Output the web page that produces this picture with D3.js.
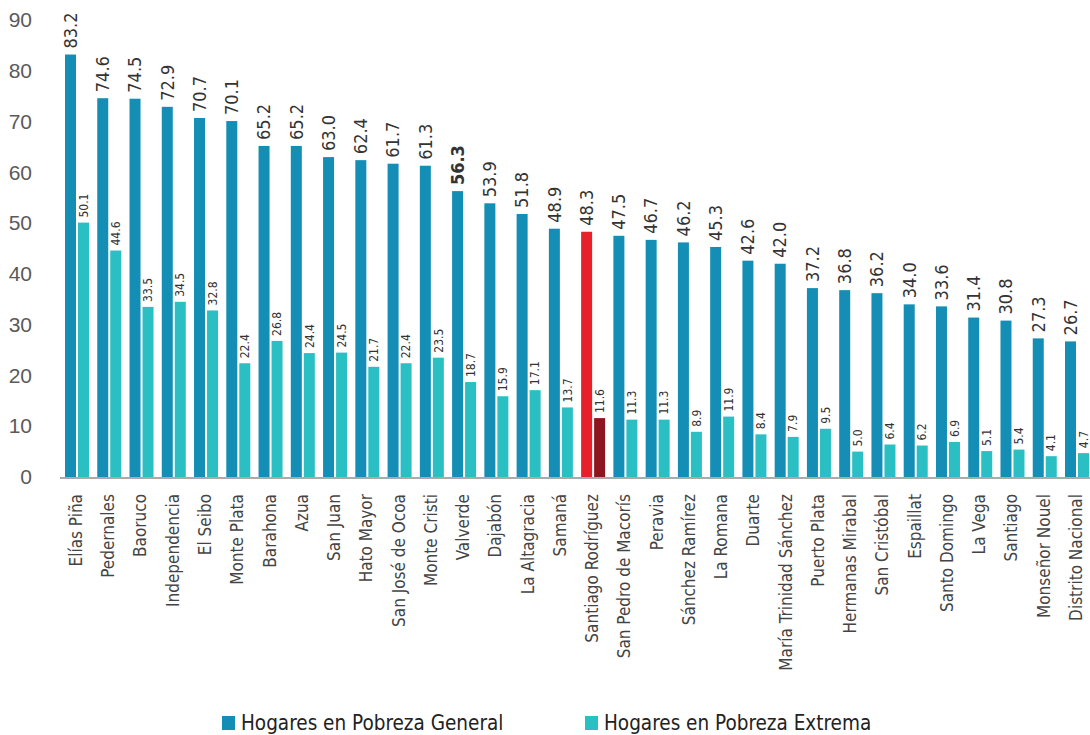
<!DOCTYPE html>
<html>
<head>
<meta charset="utf-8">
<script src="https://cdn.jsdelivr.net/npm/d3@7"></script>
<style>
  body { margin: 0; background: #fff; }
  svg { display: block; font-family: "Liberation Sans Narrow", "DejaVu Sans Condensed", "Roboto", sans-serif; }
</style>
</head>
<body>
<svg width="1090" height="735"></svg>
<script>
// provinces, sorted by general poverty
const categories = ["Elías Piña", "Pedernales", "Baoruco", "Independencia", "El Seibo", "Monte Plata",
  "Barahona", "Azua", "San Juan", "Hato Mayor", "San José de Ocoa", "Monte Cristi", "Valverde",
  "Dajabón", "La Altagracia", "Samaná", "Santiago Rodríguez", "San Pedro de Macorís", "Peravia",
  "Sánchez Ramírez", "La Romana", "Duarte", "María Trinidad Sánchez", "Puerto Plata",
  "Hermanas Mirabal", "San Cristóbal", "Espaillat", "Santo Domingo", "La Vega", "Santiago",
  "Monseñor Nouel", "Distrito Nacional"];

const general = [83.2, 74.6, 74.5, 72.9, 70.7, 70.1, 65.2, 65.2, 63.0, 62.4, 61.7, 61.3, 56.3, 53.9,
  51.8, 48.9, 48.3, 47.5, 46.7, 46.2, 45.3, 42.6, 42.0, 37.2, 36.8, 36.2, 34.0, 33.6, 31.4, 30.8, 27.3, 26.7];

const extrema = [50.1, 44.6, 33.5, 34.5, 32.8, 22.4, 26.8, 24.4, 24.5, 21.7, 22.4, 23.5, 18.7, 15.9,
  17.1, 13.7, 11.6, 11.3, 11.3, 8.9, 11.9, 8.4, 7.9, 9.5, 5.0, 6.4, 6.2, 6.9, 5.1, 5.4, 4.1, 4.7];

const yTicks = [0, 10, 20, 30, 40, 50, 60, 70, 80, 90];
const seriesNames = ["Hogares en Pobreza General", "Hogares en Pobreza Extrema"];
const highlight = "Santiago Rodríguez";
const boldLabel = "Valverde";

const colGeneral = "#148eb4", colExtrema = "#2abfc3";
const colHiGeneral = "#e8202a", colHiExtrema = "#8d1520";

const svg = d3.select("svg");

const x = d3.scaleBand()
  .domain(categories)
  .range([65, 1089])
  .paddingInner(0.256)
  .paddingOuter(0);

const xs = d3.scaleBand()
  .domain(["general", "extrema"])
  .range([0, x.bandwidth()])
  .paddingInner(0.154);

const y = d3.scaleLinear().domain([0, 90]).range([477, 20]);

const rows = categories.map((c, i) => ({ name: c, general: general[i], extrema: extrema[i] }));

// y axis labels only, no line
const yAxis = svg.append("g")
  .attr("transform", "translate(32,0)")
  .call(d3.axisLeft(y).tickValues(yTicks).tickSize(0).tickPadding(0));
yAxis.select(".domain").remove();
yAxis.selectAll("text")
  .attr("font-family", null)
  .attr("font-size", 21)
  .attr("fill", "#5a5a5a");

const grp = svg.append("g")
  .selectAll("g")
  .data(rows)
  .join("g")
  .attr("transform", d => `translate(${x(d.name)},0)`);

grp.append("rect")
  .attr("x", xs("general"))
  .attr("width", xs.bandwidth())
  .attr("y", d => y(d.general))
  .attr("height", d => y(0) - y(d.general))
  .attr("fill", d => d.name === highlight ? colHiGeneral : colGeneral);

grp.append("rect")
  .attr("x", xs("extrema"))
  .attr("width", xs.bandwidth())
  .attr("y", d => y(d.extrema))
  .attr("height", d => y(0) - y(d.extrema))
  .attr("fill", d => d.name === highlight ? colHiExtrema : colExtrema);

// value labels
grp.append("text")
  .attr("transform", d => `translate(${xs("general") + xs.bandwidth() / 2},${y(d.general) - 6}) rotate(-90)`)
  .attr("dy", "0.35em")
  .attr("font-size", 18)
  .attr("font-weight", d => d.name === boldLabel ? "bold" : null)
  .attr("fill", "#333")
  .text(d => d.general.toFixed(1));

grp.append("text")
  .attr("transform", d => `translate(${xs("extrema") + xs.bandwidth() / 2},${y(d.extrema) - 5}) rotate(-90)`)
  .attr("dy", "0.35em")
  .attr("font-size", 12)
  .attr("fill", "#333")
  .text(d => d.extrema.toFixed(1));

// baseline
svg.append("line")
  .attr("x1", 60).attr("x2", 1090)
  .attr("y1", y(0) + 1).attr("y2", y(0) + 1)
  .attr("stroke", "#aaa")
  .attr("stroke-width", 2);

// category labels
svg.append("g")
  .selectAll("text")
  .data(categories)
  .join("text")
  .attr("transform", d => `translate(${x(d) + x.bandwidth() / 2 - 1},494) rotate(-90)`)
  .attr("text-anchor", "end")
  .attr("dy", "0.35em")
  .attr("font-size", 17)
  .attr("fill", "#444")
  .text(d => d);

// legend
const legendX = [222, 585];
const legend = svg.append("g")
  .selectAll("g")
  .data(seriesNames)
  .join("g")
  .attr("transform", (d, i) => `translate(${legendX[i]},716)`);

legend.append("rect")
  .attr("width", 13).attr("height", 14)
  .attr("fill", (d, i) => i === 0 ? colGeneral : colExtrema);

legend.append("text")
  .attr("x", 19).attr("y", 14)
  .attr("font-size", 20.5)
  .attr("fill", "#222")
  .text(d => d);
</script>
</body>
</html>
